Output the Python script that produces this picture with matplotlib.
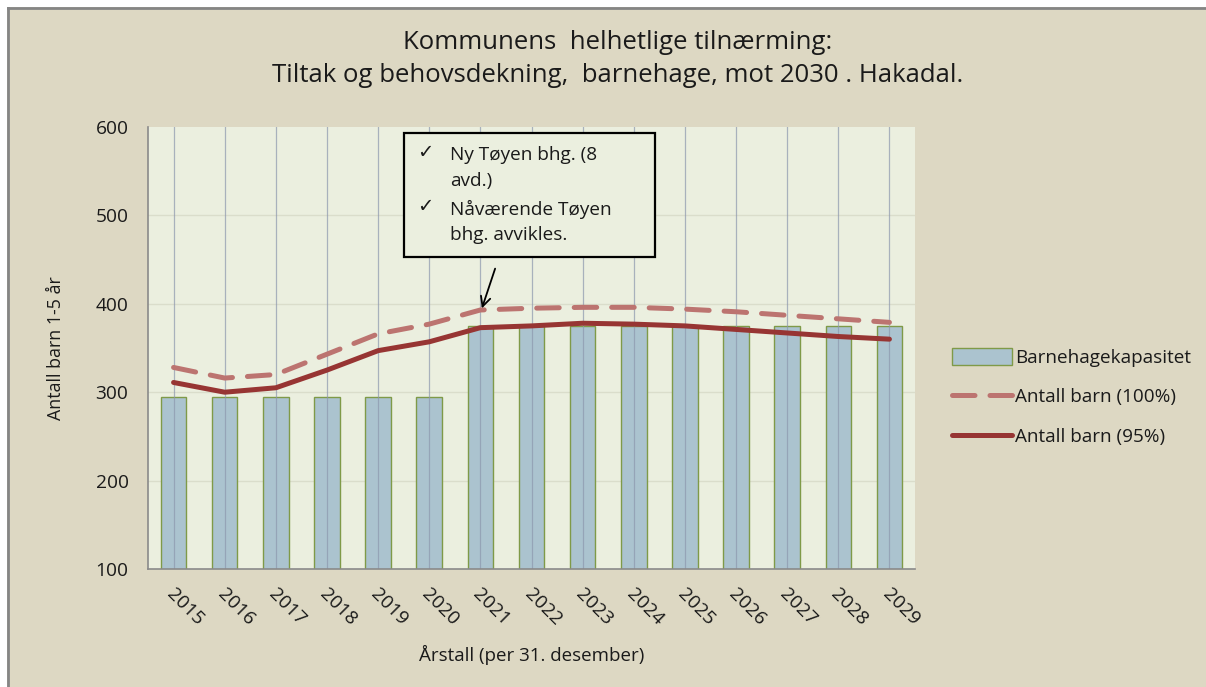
import matplotlib
matplotlib.use("Agg")
import matplotlib.pyplot as plt
from matplotlib.patches import Rectangle, FancyArrowPatch
import matplotlib.transforms as mtransforms
import numpy as np

plt.rcParams['font.family'] = ['Open Sans', 'DejaVu Sans']

years = ['2015', '2016', '2017', '2018', '2019', '2020', '2021', '2022',
         '2023', '2024', '2025', '2026', '2027', '2028', '2029']
kapasitet = [295, 295, 295, 295, 295, 295, 375, 375, 375, 375, 375, 375, 375, 375, 375]
barn_100 = [328, 316, 320, 343, 366, 377, 393, 395, 396, 396, 394, 391, 387, 383, 379]
barn_95 = [311, 300, 305, 325, 347, 357, 373, 375, 378, 377, 375, 371, 367, 363, 360]

title = "Kommunens  helhetlige tilnærming:\nTiltak og behovsdekning,  barnehage, mot 2030 . Hakadal."
ylabel = "Antall barn 1-5 år"
xlabel = "Årstall (per 31. desember)"
note_lines = ["Ny Tøyen bhg. (8", "avd.)", "Nåværende Tøyen", "bhg. avvikles."]

W, H = 1206, 687
fig = plt.figure(figsize=(W / 100, H / 100), dpi=100, facecolor='white')

# background panel (separate axes below everything)
bg = fig.add_axes([0, 0, 1, 1], zorder=-10)
bg.set_xlim(0, W)
bg.set_ylim(H, 0)
bg.axis('off')
bg.add_patch(Rectangle((7, 7), W - 7, H - 7, facecolor='#DDD8C3', edgecolor='none'))
bg.plot([7.5, 7.5], [H, 7.5], color='#858585', lw=2)
bg.plot([7.5, W], [7.5, 7.5], color='#858585', lw=2)

ax = fig.add_axes([148 / W, (H - 569) / H, (915 - 148) / W, (569 - 127) / H], zorder=1)
ax.set_facecolor('#EBEFDF')

x = np.arange(len(years))
bars = ax.bar(x, kapasitet, width=0.5, color='#ABC3CF', edgecolor='#7F9A48', linewidth=1.0,
              zorder=2, label='Barnehagekapasitet')
l100, = ax.plot(x, barn_100, color='#BC7470', lw=3.6, dashes=(4.5, 3.0), zorder=4,
                solid_capstyle='round', dash_capstyle='round', label='Antall barn (100%)')
l95, = ax.plot(x, barn_95, color='#973533', lw=3.6, zorder=5, solid_capstyle='round',
               label='Antall barn (95%)')

ax.set_xlim(-0.5, len(years) - 0.5)
ax.set_ylim(100, 600)
ax.set_yticks([100, 200, 300, 400, 500, 600])
for yv in [200, 300, 400, 500]:
    ax.axhline(yv, color='#DADDCB', lw=1.0, zorder=1)
for xv in x:
    ax.axvline(xv, color='#8C97AE', lw=0.9, alpha=0.7, zorder=3)

for s in ['top', 'right']:
    ax.spines[s].set_visible(False)
for s in ['left', 'bottom']:
    ax.spines[s].set_color('#8A8A8A')
    ax.spines[s].set_linewidth(1.2)
    ax.spines[s].set_zorder(6)

ax.tick_params(axis='both', length=0, labelsize=13.8, colors='#1A1A1A')
ax.tick_params(axis='y', pad=14)
ax.set_xticks(x)
ax.set_xticklabels(years, rotation=-45, ha='left', va='top', rotation_mode='anchor')
off = mtransforms.ScaledTranslation(2 / 100, -11 / 100, fig.dpi_scale_trans)
for lbl in ax.get_xticklabels():
    lbl.set_transform(lbl.get_transform() + off)

ax.set_ylabel(ylabel, fontsize=12.8, labelpad=22, color='#1A1A1A')
fig.text(532 / W, 1 - 655 / H, xlabel, fontsize=13.5, ha='center', va='center', color='#1A1A1A')
fig.text(618 / W, 1 - 59 / H, title, fontsize=18.5, ha='center', va='center',
         linespacing=1.45, color='#1A1A1A')

# annotation box (overlay axes on top)
ov = fig.add_axes([0, 0, 1, 1], zorder=10)
ov.set_xlim(0, W)
ov.set_ylim(H, 0)
ov.axis('off')
ov.add_patch(Rectangle((404, 133), 655 - 404, 257 - 133, facecolor='#EBEFDF',
                       edgecolor='black', lw=1.6))
ys = [155, 181, 209, 235]
for yy, t in zip(ys, note_lines):
    ov.text(450, yy, t, fontsize=13.7, ha='left', va='center', color='#1A1A1A')
for yy in [ys[0] - 3, ys[2] - 3]:
    ov.text(425, yy, '✓', fontsize=14, ha='center', va='center',
            family=['DejaVu Sans'], color='#1A1A1A', fontweight='bold')
ov.add_patch(FancyArrowPatch((496, 266), (481, 311),
                             arrowstyle='->,head_length=7,head_width=3.5', color='black',
                             lw=1.3))

leg = fig.legend(handles=[bars, l100, l95], loc='center left',
                 bbox_to_anchor=(935 / W, 1 - 397 / H), frameon=False,
                 fontsize=13.6, handlelength=3.2, handleheight=1.0, labelspacing=1.1,
                 handletextpad=0.15)
for t in leg.get_texts():
    t.set_color('#1A1A1A')

fig.savefig('out.png', dpi=100, facecolor=fig.get_facecolor())
